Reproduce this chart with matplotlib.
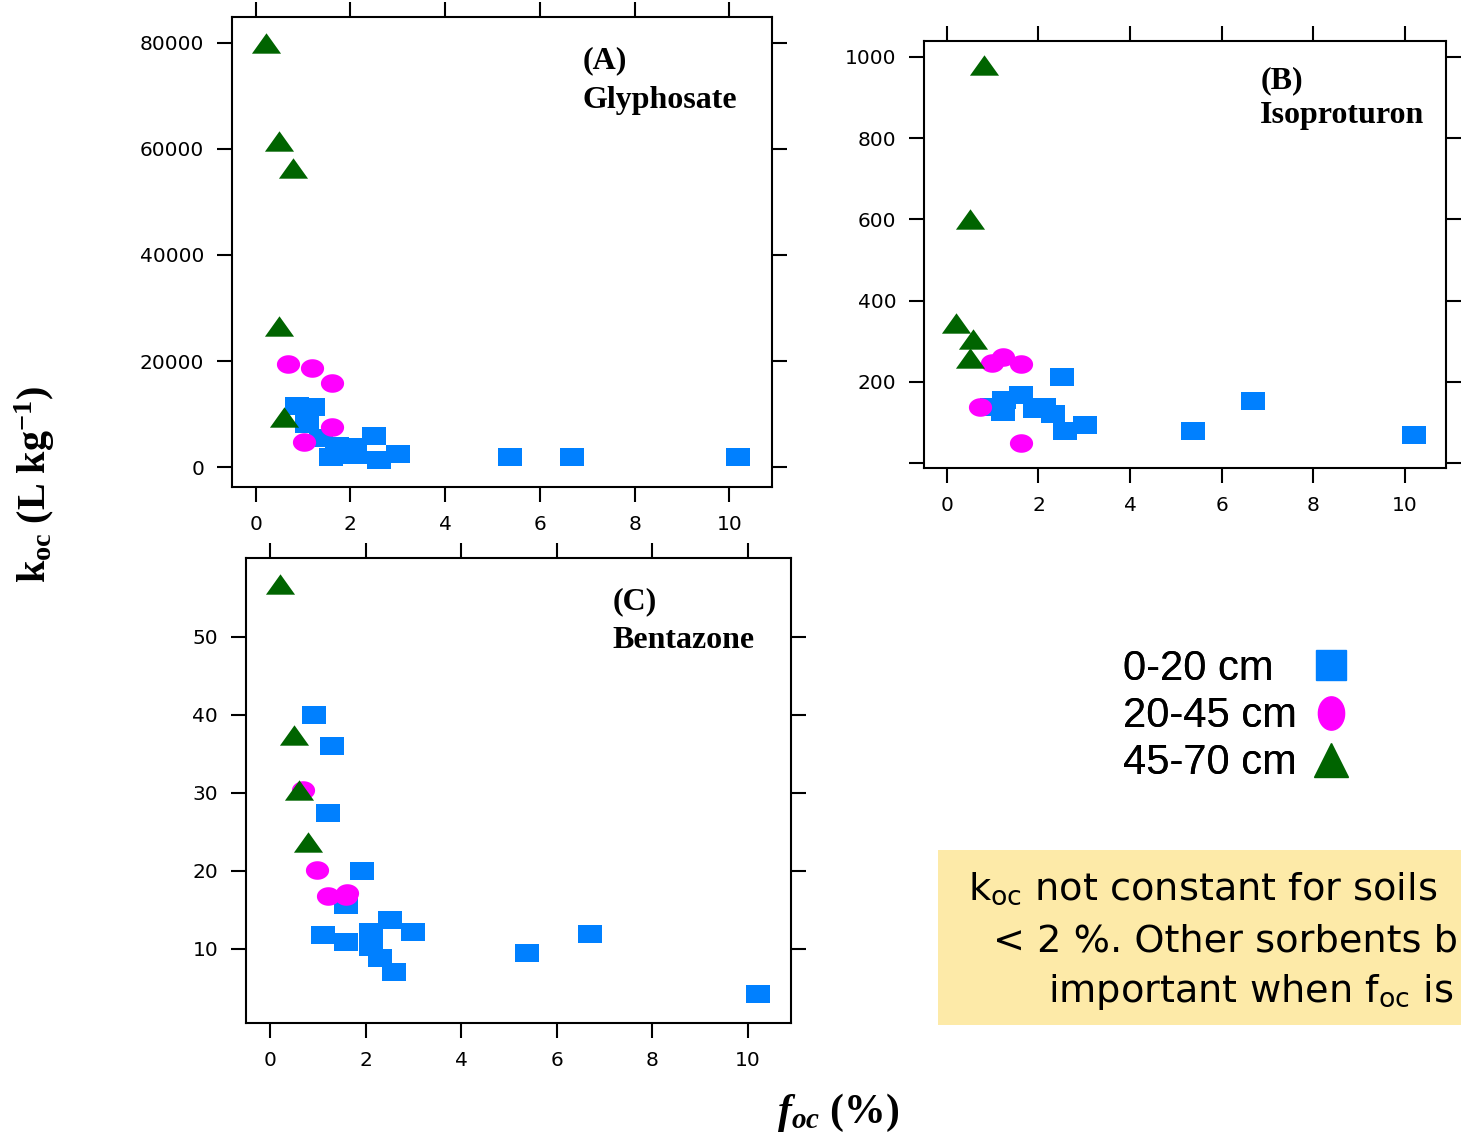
import matplotlib
matplotlib.use("Agg")
import matplotlib.pyplot as plt
import numpy as np
from matplotlib.lines import Line2D
from matplotlib.patches import Rectangle

plt.rcParams['mathtext.fontset'] = 'custom'
plt.rcParams['mathtext.rm'] = 'Liberation Serif'
plt.rcParams['mathtext.it'] = 'Liberation Serif:italic'
plt.rcParams['mathtext.bf'] = 'Liberation Serif:bold'
plt.rcParams['mathtext.bfit'] = 'Liberation Serif:bold:italic'
plt.rcParams['mathtext.sf'] = 'DejaVu Sans'

# ---- data: foc (%) and koc ----
# (A) Glyphosate
a_top_x = [0.88, 1.20, 1.09, 1.37, 1.60, 1.72, 2.09, 2.09, 2.49, 2.61, 3.00, 5.37, 6.68, 10.19]
a_top_y = [11500, 11400, 8200, 5400, 1950, 4000, 3800, 2200, 5800, 1300, 2400, 1900, 1900, 1900]
a_mid_x = [0.68, 1.18, 1.61, 1.61, 1.01]
a_mid_y = [19400, 18700, 15800, 7500, 4700]
a_low_x = [0.21, 0.49, 0.78, 0.49, 0.59]
a_low_y = [80000, 61500, 56400, 26600, 9400]

# (B) Isoproturon
b_top_x = [2.51, 1.61, 1.25, 1.22, 2.12, 1.92, 2.31, 2.58, 3.01, 0.98, 5.37, 6.68, 10.20]
b_top_y = [213, 168, 155, 126, 139, 134, 120, 78, 95, 139, 79, 153, 69]
b_mid_x = [0.98, 1.22, 1.62, 0.72, 1.62]
b_mid_y = [246, 261, 244, 138, 49]
b_low_x = [0.81, 0.50, 0.20, 0.57, 0.50]
b_low_y = [980, 601, 345, 305, 259]

# (C) Bentazone
c_top_x = [0.92, 1.30, 1.21, 1.92, 1.59, 1.11, 1.59, 2.11, 2.11, 2.51, 2.99, 2.30, 2.59, 5.38, 6.69, 10.20]
c_top_y = [40.0, 36.0, 27.4, 20.0, 15.6, 11.8, 10.9, 12.2, 10.3, 13.7, 12.2, 8.8, 7.1, 9.5, 11.9, 4.2]
c_mid_x = [0.69, 0.98, 1.21, 1.59, 1.61]
c_mid_y = [30.4, 20.1, 16.8, 16.8, 17.2]
c_low_x = [0.21, 0.50, 0.61, 0.80]
c_low_y = [56.8, 37.4, 30.3, 23.7]

depth_labels = ["0-20 cm", "20-45 cm", "45-70 cm"]
x_ticks = [0, 2, 4, 6, 8, 10]
a_yticks = [0, 20000, 40000, 60000, 80000]
b_yticks = [0, 200, 400, 600, 800, 1000]
b_ylabels = ["", "200", "400", "600", "800", "1000"]
c_yticks = [10, 20, 30, 40, 50]

blue = '#0080FF'
magenta = '#FF00FF'
green = '#006400'

# the markers in the picture are a bit wider than tall
rect = [(-1, -0.78), (1, -0.78), (1, 0.78), (-1, 0.78), (-1, -0.78)]
t = np.linspace(0, 2 * np.pi, 40)
ellipse = list(zip(np.cos(t), 0.8 * np.sin(t)))
tri = [(-1, -0.7), (1, -0.7), (0, 0.7), (-1, -0.7)]

fig = plt.figure(figsize=(14.61, 11.38), dpi=100)

W, H = 1461, 1138
def px_axes(left, top, right, bottom):
    return fig.add_axes([left / W, (H - bottom) / H, (right - left) / W, (bottom - top) / H])

axA = px_axes(232, 17, 772, 487)
axB = px_axes(924, 41, 1446, 468)
axC = px_axes(246, 558, 791, 1023)

panels = [
    (axA, a_top_x, a_top_y, a_mid_x, a_mid_y, a_low_x, a_low_y, (-3770, 84900), "(A)", "Glyphosate", 0.65),
    (axB, b_top_x, b_top_y, b_mid_x, b_mid_y, b_low_x, b_low_y, (-12, 1039), "(B)", "Isoproturon", 0.644),
    (axC, c_top_x, c_top_y, c_mid_x, c_mid_y, c_low_x, c_low_y, (0.5, 60.1), "(C)", "Bentazone", 0.672),
]

for ax, tx, ty, mx, my, lx, ly, ylim, tag, name, tx_pos in panels:
    ax.scatter(tx, ty, marker=rect, s=275, color=blue, linewidths=0, zorder=3)
    ax.scatter(mx, my, marker=ellipse, s=280, color=magenta, linewidths=0, zorder=4)
    ax.scatter(lx, ly, marker=tri, s=440, color=green, linewidths=0, zorder=5)
    ax.set_xlim(-0.5, 10.9)
    ax.set_ylim(*ylim)
    ax.set_xticks(x_ticks)
    ax.tick_params(direction='out', length=11, width=1.5, top=True, right=True,
                   labelsize=14.5, pad=9)
    for sp in ax.spines.values():
        sp.set_linewidth(1.5)
    ax.text(tx_pos, 0.89, tag, transform=ax.transAxes, family='Liberation Serif',
            weight='bold', fontsize=23, ha='left', va='baseline')
    ax.text(tx_pos, 0.807, name, transform=ax.transAxes, family='Liberation Serif',
            weight='bold', fontsize=23, ha='left', va='baseline')

axA.set_yticks(a_yticks)
axA.set_yticklabels([str(v) for v in a_yticks])
axB.set_yticks(b_yticks)
axB.set_yticklabels(b_ylabels)
axC.set_yticks(c_yticks)

# axis titles shared by the three panels
fig.text(35 / W, 1 - 484 / H, r'$\mathbf{k_{oc}\ (L\ kg^{-1})}$', rotation=90,
         fontsize=29, ha='center', va='center')
fig.text(838 / W, 1 - 1113 / H, r'$\mathbfit{f_{oc}}\ \mathbf{(\%)}$',
         fontsize=30, ha='center', va='center')

# legend: text left aligned, markers in a column to the right
leg_prop = {'family': 'Liberation Sans', 'size': 30}
handles = [
    Line2D([], [], linestyle='none', marker='s', markersize=21, color=blue),
    Line2D([], [], linestyle='none', marker=[(x, y * 1.27 / 0.8) for x, y in ellipse], markersize=24, color=magenta),
    Line2D([], [], linestyle='none', marker='^', markersize=25, color=green),
]
blank = [Line2D([], [], linestyle='none') for _ in depth_labels]
leg_text = fig.legend(blank, depth_labels, loc='upper left', bbox_to_anchor=(1123 / W, 1 - 649 / H),
                      frameon=False, prop=leg_prop, labelspacing=0.17, handlelength=0,
                      handletextpad=0, borderpad=0, borderaxespad=0)
leg_mark = fig.legend(handles, [' '] * len(handles), loc='upper right',
                      bbox_to_anchor=(1352 / W, 1 - 649 / H),
                      frameon=False, markerfirst=False, prop=leg_prop, labelspacing=0.17,
                      handlelength=1.0, handletextpad=0.0, borderpad=0, borderaxespad=0)
fig.add_artist(leg_text)

# yellow note box, cut at the right edge like the original slide
fig.patches.append(Rectangle((938 / W, 1 - 1025 / H), (W - 938) / W, 175 / H,
                             transform=fig.transFigure, facecolor='#FDEAA8', edgecolor='none'))
note_font = {'family': 'DejaVu Sans', 'size': 27.5}
fig.text(968 / W, 1 - 900 / H, r'k$_\mathsf{oc}$ not constant for soils', **note_font)
fig.text(993 / W, 1 - 951 / H, '< 2 %. Other sorbents b', **note_font)
fig.text(1048 / W, 1 - 1002 / H, r'important when f$_\mathsf{oc}$ is', **note_font)

fig.savefig('out.png', dpi=100)
